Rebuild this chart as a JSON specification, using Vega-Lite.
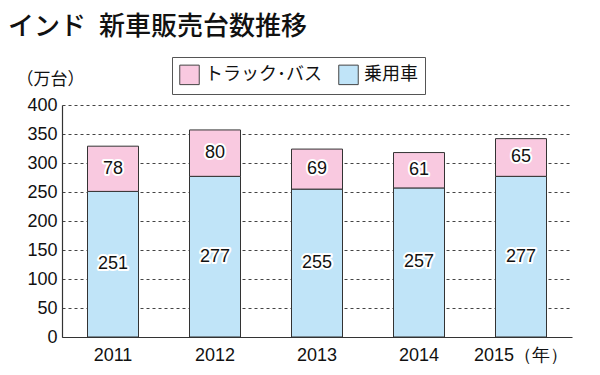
{
  "$schema": "https://vega.github.io/schema/vega-lite/v6.json",
  "width": 510,
  "height": 232,
  "autosize": {"type": "none"},
  "padding": {"left": 62, "top": 105, "right": 28, "bottom": 38},
  "background": "white",
  "title": {
    "text": "インド\u2002新車販売台数推移",
    "anchor": "start",
    "frame": "group",
    "font": "Noto Sans CJK JP",
    "fontSize": 26,
    "fontWeight": 500,
    "color": "#111",
    "dx": -54,
    "offset": 17
  },
  "data": {
    "values": [
      {"year": "2011", "type": "乗用車", "value": 251},
      {"year": "2011", "type": "トラック･バス", "value": 78},
      {"year": "2012", "type": "乗用車", "value": 277},
      {"year": "2012", "type": "トラック･バス", "value": 80},
      {"year": "2013", "type": "乗用車", "value": 255},
      {"year": "2013", "type": "トラック･バス", "value": 69},
      {"year": "2014", "type": "乗用車", "value": 257},
      {"year": "2014", "type": "トラック･バス", "value": 61},
      {"year": "2015", "type": "乗用車", "value": 277},
      {"year": "2015", "type": "トラック･バス", "value": 65}
    ]
  },
  "transform": [
    {"stack": "value", "groupby": ["year"], "sort": [{"field": "type", "order": "descending"}], "as": ["v0", "v1"]},
    {"calculate": "(datum.v0 + datum.v1) / 2", "as": "mid"}
  ],
  "encoding": {
    "x": {
      "field": "year",
      "type": "ordinal",
      "scale": {"paddingInner": 0.5, "paddingOuter": 0.25},
      "axis": {
        "title": null,
        "labelAngle": 0,
        "labelFont": "Liberation Sans",
        "labelFontSize": 18,
        "labelColor": "#111",
        "labelPadding": 9,
        "ticks": false,
        "domainColor": "#333",
        "domainWidth": 1.2,
        "labelExpr": "datum.value == '2015' ? '2015（年）' : datum.value",
        "encode": {"labels": {"update": {"dx": {"signal": "datum.value == '2015' ? 22 : 0"}}}}
      }
    }
  },
  "layer": [
    {
      "mark": {"type": "bar", "stroke": "#333", "strokeWidth": 1},
      "encoding": {
        "y": {
          "field": "v0",
          "type": "quantitative",
          "scale": {"domain": [0, 400], "nice": false},
          "axis": {
            "values": [0, 50, 100, 150, 200, 250, 300, 350, 400],
            "labelOverlap": false,
            "title": "（万台）",
            "titleAngle": 0,
            "titleAlign": "left",
            "titleBaseline": "middle",
            "titleX": -46,
            "titleY": -26,
            "titleFont": "Noto Sans CJK JP",
            "titleFontSize": 17,
            "titleFontWeight": "normal",
            "titleColor": "#111",
            "labelFont": "Liberation Sans",
            "labelFontSize": 18,
            "labelColor": "#111",
            "labelPadding": 5,
            "ticks": false,
            "domainColor": "#333",
            "domainWidth": 1.2,
            "grid": true,
            "gridColor": "#444",
            "gridDash": [3, 3],
            "gridWidth": 1
          }
        },
        "y2": {"field": "v1"},
        "color": {
          "field": "type",
          "type": "nominal",
          "scale": {"domain": ["トラック･バス", "乗用車"], "range": ["#F9C9E0", "#C0E4F8"]},
          "legend": {
            "title": null,
            "orient": "none",
            "direction": "horizontal",
            "legendX": 110,
            "legendY": -48,
            "symbolType": "square",
            "symbolSize": 380,
            "symbolStrokeColor": "#444",
            "symbolStrokeWidth": 1,
            "symbolOpacity": 1,
            "labelFont": "Noto Sans CJK JP",
            "labelFontSize": 18,
            "labelColor": "#111",
            "labelOffset": 5,
            "columnPadding": 14,
            "padding": 7,
            "strokeColor": "#555",
            "fillColor": "white"
          }
        }
      }
    },
    {
      "mark": {"type": "text", "font": "Liberation Sans", "fontSize": 18, "stroke": "white", "strokeWidth": 4, "fill": "white", "strokeJoin": "round"},
      "encoding": {
        "y": {
          "field": "mid",
          "type": "quantitative",
          "axis": {
            "values": [0, 50, 100, 150, 200, 250, 300, 350, 400],
            "labelOverlap": false,
            "title": "（万台）",
            "grid": true
          }
        },
        "text": {"field": "value", "type": "quantitative"}
      }
    },
    {
      "mark": {"type": "text", "font": "Liberation Sans", "fontSize": 18, "fill": "#111"},
      "encoding": {
        "y": {
          "field": "mid",
          "type": "quantitative",
          "axis": {
            "values": [0, 50, 100, 150, 200, 250, 300, 350, 400],
            "labelOverlap": false,
            "title": "（万台）",
            "grid": true
          }
        },
        "text": {"field": "value", "type": "quantitative"}
      }
    }
  ],
  "config": {"view": {"stroke": null}}
}
